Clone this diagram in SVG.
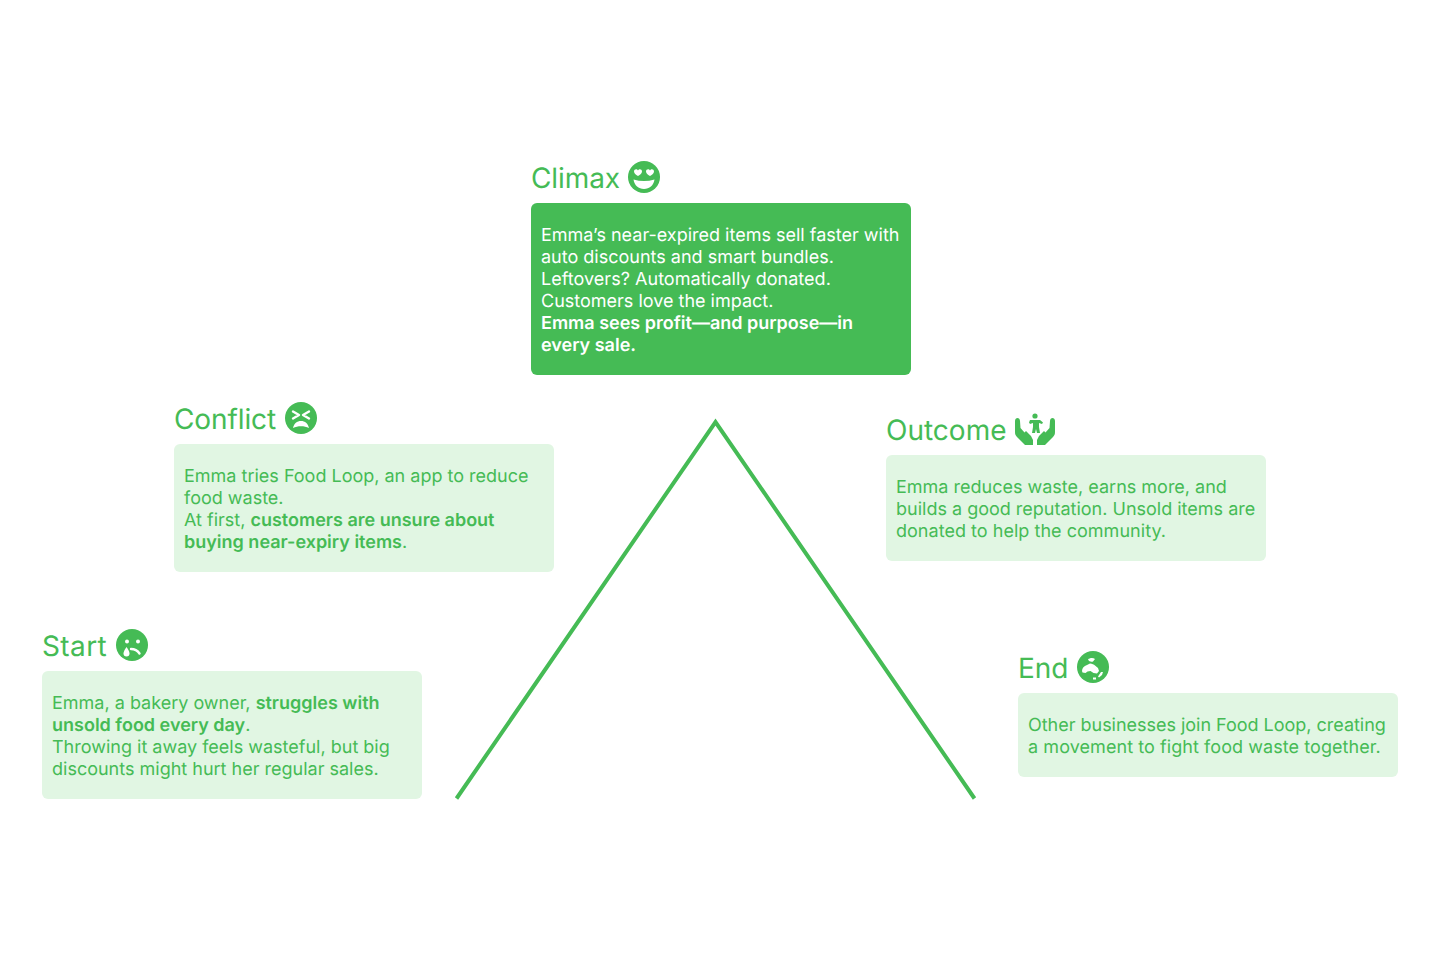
<svg xmlns="http://www.w3.org/2000/svg" width="1440" height="960" viewBox="0 0 1440 960">
<style>
text{font-family:Inter,"Liberation Sans",sans-serif;text-rendering:geometricPrecision;font-weight:400}
.t{font-size:28px;fill:#45bb55}
.b{font-size:18px;fill:#45bb55}
.w{font-size:18px;fill:#fff}
.s{font-weight:600}
.p{fill:#e1f6e3}
.g{fill:#45bb55}
.i{fill:#fff}
.il{fill:none;stroke:#fff;stroke-width:2.400;stroke-linecap:round;stroke-linejoin:round}
</style>
<rect width="1440" height="960" fill="#fff"/>
<g id="connectors"><polyline points="456.500,798.500 715.500,422 974.500,798.500" fill="none" stroke="#45bb55" stroke-width="4"/></g>
<g id="climax">
<text class="t" x="531" y="188" letter-spacing="-.1">Climax</text>
<circle class="g" cx="644" cy="177" r="16"/>
<path class="i" d="M634 171.500c0-2.500 3-3 4-1 1-2 4-1.500 4 1 0 2-2.500 3.500-4 4.500-1.500-1-4-2.500-4-4.500zM646 171.500c0-2.500 3-3 4-1 1-2 4-1.500 4 1 0 2-2.500 3.500-4 4.500-1.500-1-4-2.500-4-4.500z"/>
<path class="i" d="M633.500 179.500c7 2 14 2 21 0-1 6-5 9.500-10.500 9.500s-9.500-3.500-10.500-9.500z"/>
<rect class="g" x="531" y="203" width="380" height="172" rx="6"/>
<text class="w" x="541" y="241">Emma’s near-expired items sell faster with</text>
<text class="w" x="541" y="263">auto discounts and smart bundles.</text>
<text class="w" x="541" y="285" letter-spacing=".03">Leftovers? Automatically donated.</text>
<text class="w" x="541" y="307">Customers love the impact.</text>
<text class="w s" x="541" y="329">Emma sees profit—and purpose—in</text>
<text class="w s" x="541" y="351">every sale.</text>
</g>
<g id="conflict">
<text class="t" x="174" y="429" letter-spacing="-.1">Conflict</text>
<circle class="g" cx="301" cy="418" r="16"/>
<path class="il" d="M293 411.500l6 3.500-6 3.500M309 411.500l-6 3.500 6 3.500"/>
<path class="i" d="M293 428c1-4.500 4-7 8-7s7 2.500 8 7c-5-2.500-11-2.500-16 0z"/>
<rect class="p" x="174" y="444" width="380" height="128" rx="6"/>
<text class="b" x="184" y="482">Emma tries Food Loop, an app to reduce</text>
<text class="b" x="184" y="504">food waste.</text>
<text class="b" x="184" y="526">At first, <tspan class="s">customers are unsure about</tspan></text>
<text class="b" x="184" y="548"><tspan class="s">buying near-expiry items</tspan>.</text>
</g>
<g id="start">
<text class="t" x="42" y="656" letter-spacing=".4">Start</text>
<circle class="g" cx="132" cy="645" r="16"/>
<circle class="i" cx="127" cy="641.500" r="2"/><circle class="i" cx="138" cy="641.500" r="2"/>
<path class="il" d="M131 649c3.500 0 6.500 1.500 8.500 4.500"/>
<path class="i" d="M126.500 647c2 3 3 5 3 6.500a3 3 0 0 1-6 0c0-1.500 1-3.500 3-6.500z"/>
<rect class="p" x="42" y="671" width="380" height="128" rx="6"/>
<text class="b" x="52" y="709">Emma, a bakery owner, <tspan class="s">struggles with</tspan></text>
<text class="b" x="52" y="731"><tspan class="s">unsold food every day</tspan>.</text>
<text class="b" x="52" y="753">Throwing it away feels wasteful, but big</text>
<text class="b" x="52" y="775">discounts might hurt her regular sales.</text>
</g>
<g id="outcome">
<text class="t" x="886" y="440">Outcome</text>
<g class="g">
<circle cx="1035" cy="416" r="2.600"/>
<path d="M1030 420h10l3 2.500-1 1.500-3-1v4l1 6h-3l-1-4-1 4h-3l1-6v-4l-3 1-1-1.500z"/>
</g>
<path class="g" d="M1015 421c0-4 5-4 5 0l.5 7 4 4.500 1.500-1.500 5 5 2 4v5h-8l-8-8c-1.500-1.500-2-3-2-5z"/>
<path class="g" d="M1055 421c0-4-5-4-5 0l-.5 7-4 4.500-1.500-1.500-5 5-2 4v5h8l8-8c1.500-1.500 2-3 2-5z"/>
<rect class="p" x="886" y="455" width="380" height="106" rx="6"/>
<text class="b" x="896" y="493">Emma reduces waste, earns more, and</text>
<text class="b" x="896" y="515">builds a good reputation. Unsold items are</text>
<text class="b" x="896" y="537" letter-spacing=".03">donated to help the community.</text>
</g>
<g id="end">
<text class="t" x="1018" y="678">End</text>
<circle class="g" cx="1093" cy="667" r="16"/>
<path class="i" d="M1082 671c0-3 2-5 5-6l3-1.500c2 .5 4 .5 5 2l3 2.500 1 3-2 2.500-3.500-.5-3-2-3 .5-2 1.500-3-.5z"/>
<path class="i" d="M1088 659.500c1.500-1.500 5-2 7-.5l-2 2.500c-2 .5-4 0-5-2zM1103 672l-1 3-3 2.500-1-1 3-4.500zM1093 677.500h3v2h-3z"/>
<rect class="p" x="1018" y="693" width="380" height="84" rx="6"/>
<text class="b" x="1028" y="731" letter-spacing="-.02">Other businesses join Food Loop, creating</text>
<text class="b" x="1028" y="753" letter-spacing=".07">a movement to fight food waste together.</text>
</g>
</svg>
